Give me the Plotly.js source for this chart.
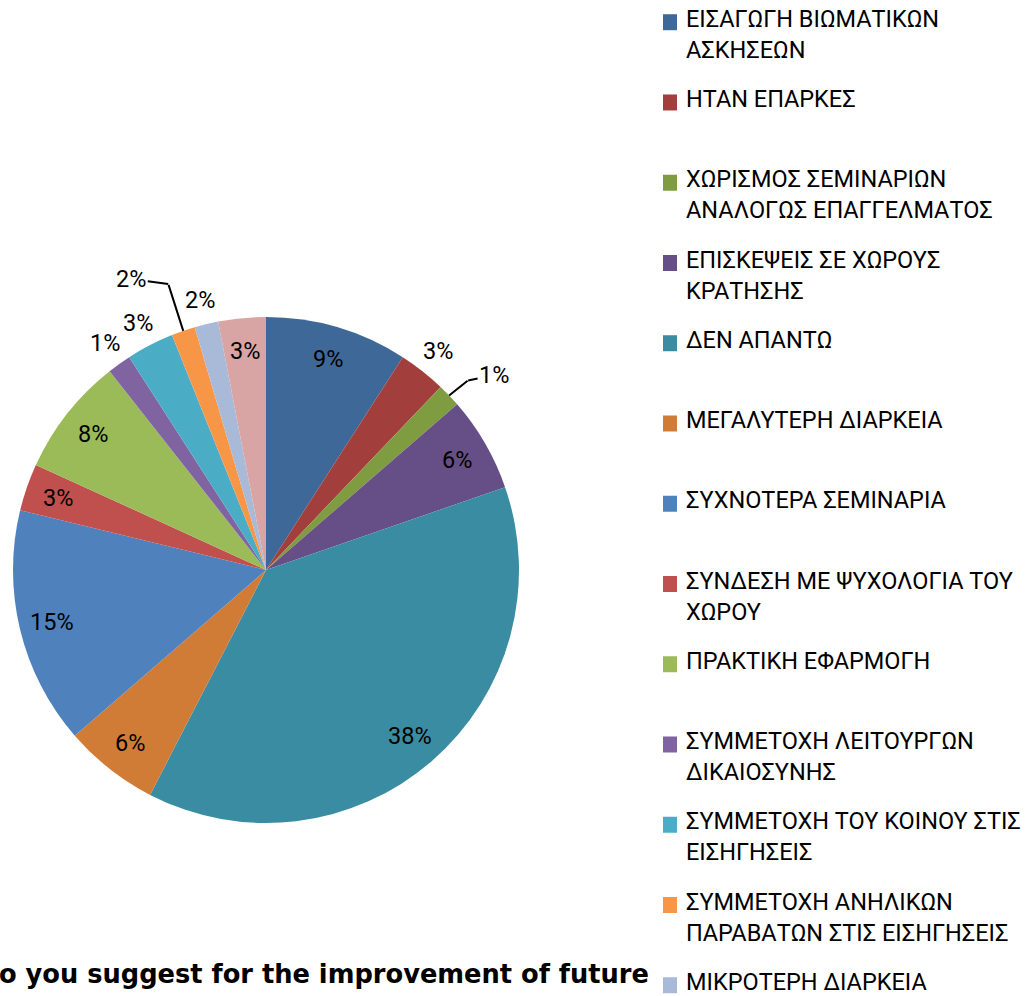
<!DOCTYPE html>
<html>
<head>
<meta charset="utf-8">
<script src="https://cdn.plot.ly/plotly-3.0.1.min.js"></script>
<style>html,body{margin:0;padding:0;background:#fff;}#chart{width:1031px;height:996px;}</style>
</head>
<body>
<div id="chart"></div>
<script>
// Categories (legend labels, Greek; second element = wrapped line)
const categories = [
  ["ΕΙΣΑΓΩΓΗ ΒΙΩΜΑΤΙΚΩΝ", "ΑΣΚΗΣΕΩΝ"],
  ["ΗΤΑΝ ΕΠΑΡΚΕΣ"],
  ["ΧΩΡΙΣΜΟΣ ΣΕΜΙΝΑΡΙΩΝ", "ΑΝΑΛΟΓΩΣ ΕΠΑΓΓΕΛΜΑΤΟΣ"],
  ["ΕΠΙΣΚΕΨΕΙΣ ΣΕ ΧΩΡΟΥΣ", "ΚΡΑΤΗΣΗΣ"],
  ["ΔΕΝ ΑΠΑΝΤΩ"],
  ["ΜΕΓΑΛΥΤΕΡΗ ΔΙΑΡΚΕΙΑ"],
  ["ΣΥΧΝΟΤΕΡΑ ΣΕΜΙΝΑΡΙΑ"],
  ["ΣΥΝΔΕΣΗ ΜΕ ΨΥΧΟΛΟΓΙΑ ΤΟΥ", "ΧΩΡΟΥ"],
  ["ΠΡΑΚΤΙΚΗ ΕΦΑΡΜΟΓΗ"],
  ["ΣΥΜΜΕΤΟΧΗ ΛΕΙΤΟΥΡΓΩΝ", "ΔΙΚΑΙΟΣΥΝΗΣ"],
  ["ΣΥΜΜΕΤΟΧΗ ΤΟΥ ΚΟΙΝΟΥ ΣΤΙΣ", "ΕΙΣΗΓΗΣΕΙΣ"],
  ["ΣΥΜΜΕΤΟΧΗ ΑΝΗΛΙΚΩΝ", "ΠΑΡΑΒΑΤΩΝ ΣΤΙΣ ΕΙΣΗΓΗΣΕΙΣ"],
  ["ΜΙΚΡΟΤΕΡΗ ΔΙΑΡΚΕΙΑ"],
  ["ΑΛΛΟ"]
];
// Number of responses per category (slice sizes)
const counts = [6, 2, 1, 4, 25, 4, 10, 2, 5, 1, 2, 1, 1, 2];
// Percentage labels as printed on the chart
const pctLabels = ["9%", "3%", "1%", "6%", "38%", "6%", "15%", "3%", "8%", "1%", "3%", "2%", "2%", "3%"];
// Slice colours
const colors = ["#3E6898", "#A23F3C", "#7F9C41", "#664F87", "#3A8CA2", "#D07C36", "#4F81BD",
                "#C0504D", "#9BBB59", "#8064A2", "#4BACC6", "#F79646", "#A9B9D8", "#D9A5A4"];
const titleText = "o you suggest for the improvement of future";

// ---- style / layout constants ----
const W = 1031, H = 996;
const cx = 266, cy = 570, r = 253;              // pie centre and radius in px
const labelPlace = ["in", "out", "lead", "in", "in", "in", "in",
                    "in", "in", "out", "out", "lead", "out", "in"];
// leader lines: [elbow offset from slice edge, text offset from elbow]
const leadStyle = {2: [[19, -15], [26, -5]], 11: [[-15, -47], [-37, -5]]};
const IN_R = 0.87, OUT_R = 1.1;
const labelFont = {family: 'Roboto, sans-serif', size: 23.5, color: '#000'};

const span = s => '<span style="font-size:23.5px">' + s + '</span>';
const legendLabels = categories.map((lines, i) => {
  if (i >= categories.length - 2) return span(lines[0]);
  const l2 = lines[1] ? span(lines[1]) : ' ';
  return [span(lines[0]), ' ', l2, ' ', ' '].join('<br>');
});

// label annotations positioned from the data (slice mid-angles)
const total = counts.reduce((a, b) => a + b, 0);
let cum = 0;
const annotations = [];
const toPaper = (px, py) => [px / W, 1 - py / H];
counts.forEach((v, i) => {
  const mid = (cum + v / 2) / total * 2 * Math.PI;
  cum += v;
  const at = rho => [cx + rho * Math.sin(mid), cy - rho * Math.cos(mid)];
  const place = labelPlace[i];
  if (place === 'lead') {
    const [ex, ey] = at(r);
    const [[bx, by], [tx, ty]] = leadStyle[i];
    const [p1x, p1y] = toPaper(ex, ey);
    const [p2x, p2y] = toPaper(ex + bx, ey + by);
    annotations.push({
      text: ' ', xref: 'paper', yref: 'paper', x: p1x, y: p1y, ax: bx, ay: by,
      showarrow: true, arrowhead: 0, arrowwidth: 2, arrowcolor: '#000', standoff: 0,
      font: {size: 1}, borderpad: 0
    });
    annotations.push({
      text: pctLabels[i], xref: 'paper', yref: 'paper', x: p2x, y: p2y, ax: tx, ay: ty,
      showarrow: true, arrowhead: 0, arrowwidth: 2, arrowcolor: '#000', standoff: 0,
      font: labelFont
    });
  } else {
    const [px, py] = at(place === 'in' ? IN_R * r : OUT_R * r);
    const [qx, qy] = toPaper(px, py);
    annotations.push({
      text: pctLabels[i], xref: 'paper', yref: 'paper',
      x: qx, y: qy, xanchor: 'center', yanchor: 'middle',
      showarrow: false, font: labelFont
    });
  }
});
annotations.push({
  text: '<b>' + titleText + '</b>',
  xref: 'paper', yref: 'paper', x: -3 / W, y: 1 - 974 / H,
  xanchor: 'left', yanchor: 'middle', showarrow: false,
  font: {family: 'DejaVu Sans, sans-serif', size: 25.7, color: '#000'}
});

const trace = {
  type: 'pie',
  labels: legendLabels,
  values: counts,
  textinfo: 'none',
  sort: false,
  direction: 'clockwise',
  rotation: 0,
  marker: {colors: colors, line: {width: 0}},
  hoverinfo: 'label+percent',
  domain: {x: [(cx - r) / W, (cx + r) / W], y: [1 - (cy + r) / H, 1 - (cy - r) / H]}
};

const layout = {
  width: W, height: H,
  margin: {l: 0, r: 0, t: 0, b: 0, autoexpand: false},
  paper_bgcolor: '#fff',
  showlegend: true,
  legend: {
    x: 646 / W, xanchor: 'left', y: 1 - 8 / H, yanchor: 'top',
    valign: 'top',
    font: {family: 'Roboto, sans-serif', size: 11.885, color: '#000'},
    bgcolor: 'rgba(0,0,0,0)', borderwidth: 0
  },
  annotations: annotations
};

Plotly.newPlot('chart', [trace], layout, {displayModeBar: false, staticPlot: true}).then(() => {
  // larger legend swatches, like the reference
  document.querySelectorAll('#chart .legendpie').forEach(p => p.setAttribute('d', 'M11,8H-3V-8H11Z'));
  // the 14th legend entry lies below the visible area of the reference: drop it
  const items = document.querySelectorAll('#chart .legend .traces');
  if (items.length) items[items.length - 1].remove();
});
</script>
</body>
</html>
